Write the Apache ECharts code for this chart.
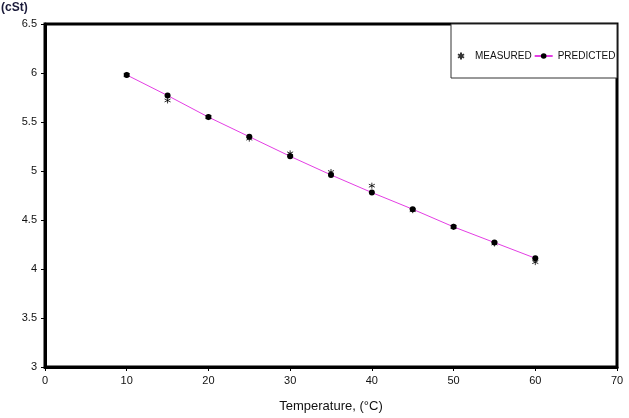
<!DOCTYPE html>
<html>
<head>
<meta charset="utf-8">
<script src="https://cdn.jsdelivr.net/npm/echarts@6/dist/echarts.min.js"></script>
<style>
  html, body { margin: 0; padding: 0; background: #fff; }
  #main { width: 629px; height: 418px; }
</style>
</head>
<body>
<div id="main"></div>
<script>
// temperatures (°C)
var temps = [10, 15, 20, 25, 30, 35, 40, 45, 50, 55, 60];
// viscosity (cSt)
var measured = [5.98, 5.72, 5.55, 5.33, 5.18, 4.99, 4.85, 4.60, 4.43, 4.26, 4.07];
var predicted = [5.98, 5.77, 5.55, 5.35, 5.15, 4.96, 4.78, 4.61, 4.43, 4.27, 4.11];

var asterisk = 'path://M5 0L5 10M0.7 2.5L9.3 7.5M0.7 7.5L9.3 2.5';

function pairs(xs, ys) {
  return xs.map(function (x, i) { return [x, ys[i]]; });
}

var chart = echarts.init(document.getElementById('main'));
var font = '"Liberation Sans", Arial, sans-serif';

chart.setOption({
  animation: false,
  backgroundColor: '#fff',
  grid: {
    left: 45, right: 12, top: 24, bottom: 50,
    show: true, borderColor: '#000', borderWidth: 3
  },
  graphic: [
    {
      type: 'rect', z: 5,
      shape: { x: 451, y: 24, width: 166, height: 54 },
      style: { fill: '#fff', stroke: '#333', lineWidth: 1 }
    },
    {
      type: 'text', left: 1, top: 2,
      style: { text: '(cSt)', font: 'bold 12px "Liberation Sans", Arial', fill: '#1a1a3a' }
    }
  ],
  legend: {
    left: 452, top: 46, z: 10,
    itemWidth: 18, itemHeight: 7, itemGap: 2,
    textStyle: { fontSize: 10, fontFamily: font, color: '#111' },
    data: ['MEASURED', 'PREDICTED']
  },
  xAxis: {
    type: 'value', min: 0, max: 70, interval: 10,
    name: 'Temperature, (°C)', nameLocation: 'middle', nameGap: 33,
    nameTextStyle: { fontSize: 13, fontFamily: font, color: '#111' },
    axisLine: { lineStyle: { color: '#000', width: 3 } },
    axisTick: { show: true, length: 4, lineStyle: { color: '#000', width: 1 } },
    axisLabel: { fontSize: 11, fontFamily: font, color: '#111', margin: 8 },
    splitLine: { show: false }
  },
  yAxis: {
    type: 'value', min: 3, max: 6.5, interval: 0.5,
    axisLine: { show: true, lineStyle: { color: '#000', width: 3 } },
    axisTick: { show: true, length: 4, lineStyle: { color: '#000', width: 1 } },
    axisLabel: { fontSize: 11, fontFamily: font, color: '#111', margin: 8 },
    splitLine: { show: false }
  },
  series: [
    {
      name: 'MEASURED', type: 'scatter',
      data: pairs(temps, measured),
      symbol: asterisk, symbolSize: 6,
      itemStyle: { color: '#000', borderColor: '#000', borderWidth: 1 },
      z: 4
    },
    {
      name: 'PREDICTED', type: 'line',
      data: pairs(temps, predicted),
      symbol: 'circle', symbolSize: 6,
      lineStyle: { color: '#e43ee4', width: 1 },
      itemStyle: { color: '#000' },
      z: 3
    }
  ]
});
</script>
</body>
</html>
